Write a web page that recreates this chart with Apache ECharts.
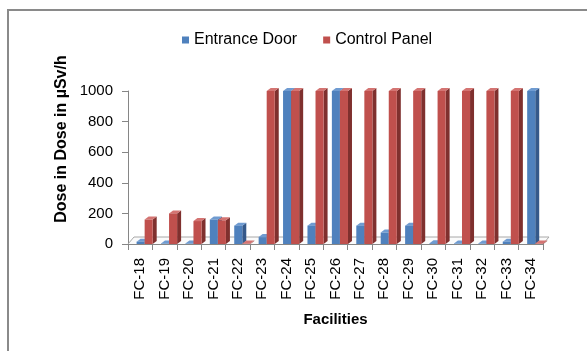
<!DOCTYPE html>
<html>
<head>
<meta charset="UTF-8">
<title>Dose by facility</title>
<script src="https://cdn.jsdelivr.net/npm/echarts@6/dist/echarts.min.js"></script>
<style>
  html, body { margin: 0; padding: 0; background: #fff; }
  #chart { width: 587px; height: 351px; }
</style>
</head>
<body>
<div id="chart"></div>
<script>
// data
const facilities = ['FC-18','FC-19','FC-20','FC-21','FC-22','FC-23','FC-24','FC-25','FC-26',
  'FC-27','FC-28','FC-29','FC-30','FC-31','FC-32','FC-33','FC-34'];
const entranceDoor = [15, 3, 3, 160, 120, 45, 1000, 120, 1000, 120, 75, 120, 5, 3, 3, 15, 1000];
const controlPanel = [160, 200, 150, 155, 3, 1000, 1000, 1000, 1000, 1000, 1000, 1000, 1000, 1000, 1000, 1000, 3];
const yTicks = [0, 200, 400, 600, 800, 1000];

const FONT = '"Liberation Sans", Arial, sans-serif';
const DEPTH_X = 4, DEPTH_Y = 3;

// colours for the three faces of each 3d bar
const faces = [
  { front: '#4f81bd', side: '#35598a', top: '#6f9bd1' },
  { front: '#c0504d', side: '#7f302e', top: '#d47472' }
];

function bar3d(slot) {
  return function (params, api) {
    const idx = api.value(0);
    const top = api.coord([idx, api.value(1)]);
    const base = api.coord([idx, 0]);
    const band = api.size([1, 0])[0];
    const w = band * 0.33;
    const x0 = top[0] - w * 0.45 + slot * w;
    const x1 = x0 + w;
    const yt = top[1], yb = base[1];
    const c = faces[slot];
    return {
      type: 'group',
      children: [
        { type: 'polygon', shape: { points: [[x1, yb], [x1 + DEPTH_X, yb - DEPTH_Y], [x1 + DEPTH_X, yt - DEPTH_Y], [x1, yt]] },
          style: { fill: c.side } },
        { type: 'polygon', shape: { points: [[x0, yt], [x0 + DEPTH_X, yt - DEPTH_Y], [x1 + DEPTH_X, yt - DEPTH_Y], [x1, yt]] },
          style: { fill: c.top } },
        { type: 'rect', shape: { x: x0, y: yt, width: w, height: yb - yt },
          style: { fill: c.front } }
      ]
    };
  };
}

const chart = echarts.init(document.getElementById('chart'));
chart.setOption({
  animation: false,
  textStyle: { fontFamily: FONT },
  legend: {
    top: 27,
    left: 177,
    itemWidth: 7,
    itemHeight: 7,
    itemGap: 26,
    icon: 'rect',
    textStyle: { fontFamily: FONT, fontSize: 16, color: '#000' },
    data: ['Entrance Door', 'Control Panel']
  },
  grid: { left: 128, right: 44, top: 91, bottom: 107 },
  xAxis: {
    type: 'category',
    data: facilities,
    boundaryGap: true,
    axisLine: { lineStyle: { color: '#868686', width: 1 } },
    axisTick: { show: true, length: 6, interval: 0, lineStyle: { color: '#868686' } },
    axisLabel: { rotate: 90, interval: 0, fontSize: 15, color: '#000', margin: 14, fontFamily: FONT },
    name: 'Facilities',
    nameLocation: 'middle',
    nameGap: 68,
    nameTextStyle: { fontWeight: 'bold', fontSize: 15, color: '#000', fontFamily: FONT }
  },
  yAxis: {
    type: 'value',
    min: yTicks[0],
    max: yTicks[yTicks.length - 1],
    interval: 200,
    axisLine: { show: true, lineStyle: { color: '#868686', width: 1 } },
    axisTick: { show: true, length: 6, lineStyle: { color: '#868686' } },
    splitLine: { show: false },
    axisLabel: { fontSize: 15, color: '#000', margin: 15, fontFamily: FONT, formatter: v => String(v) }
  },
  series: [
    {
      name: 'Entrance Door',
      type: 'custom',
      itemStyle: { color: faces[0].front },
      renderItem: bar3d(0),
      encode: { x: 0, y: 1 },
      data: entranceDoor.map((v, i) => [i, v]),
      z: 3
    },
    {
      name: 'Control Panel',
      type: 'custom',
      itemStyle: { color: faces[1].front },
      renderItem: bar3d(1),
      encode: { x: 0, y: 1 },
      data: controlPanel.map((v, i) => [i, v]),
      z: 4
    }
  ]
});

// outer frame, floor edge and rotated y title
const xAxisObj = chart.getModel().getComponent('xAxis').axis;
const left = chart.convertToPixel({ xAxisIndex: 0 }, 0) - xAxisObj.getBandWidth() / 2;
const right = left + xAxisObj.getBandWidth() * facilities.length;
const base = chart.convertToPixel({ yAxisIndex: 0 }, 0);
chart.setOption({
  graphic: [
    { type: 'rect', shape: { x: 8, y: 10, width: 700, height: 500 },
      style: { fill: null, stroke: '#8a8a8a', lineWidth: 2 }, silent: true },
    { type: 'polyline', z: 1,
      shape: { points: [[left, base], [left + 6, base - 7], [right + 6, base - 7], [right, base]] },
      style: { fill: '#fbfbfb', stroke: '#a8a8a8', lineWidth: 1 } },
    { type: 'text', x: 62, y: 139, rotation: Math.PI / 2,
      style: { text: 'Dose in Dose in µSv/h', fontFamily: FONT, fontSize: 16, fontWeight: 'bold',
        fill: '#000', align: 'center', verticalAlign: 'middle' } }
  ]
});
</script>
</body>
</html>
